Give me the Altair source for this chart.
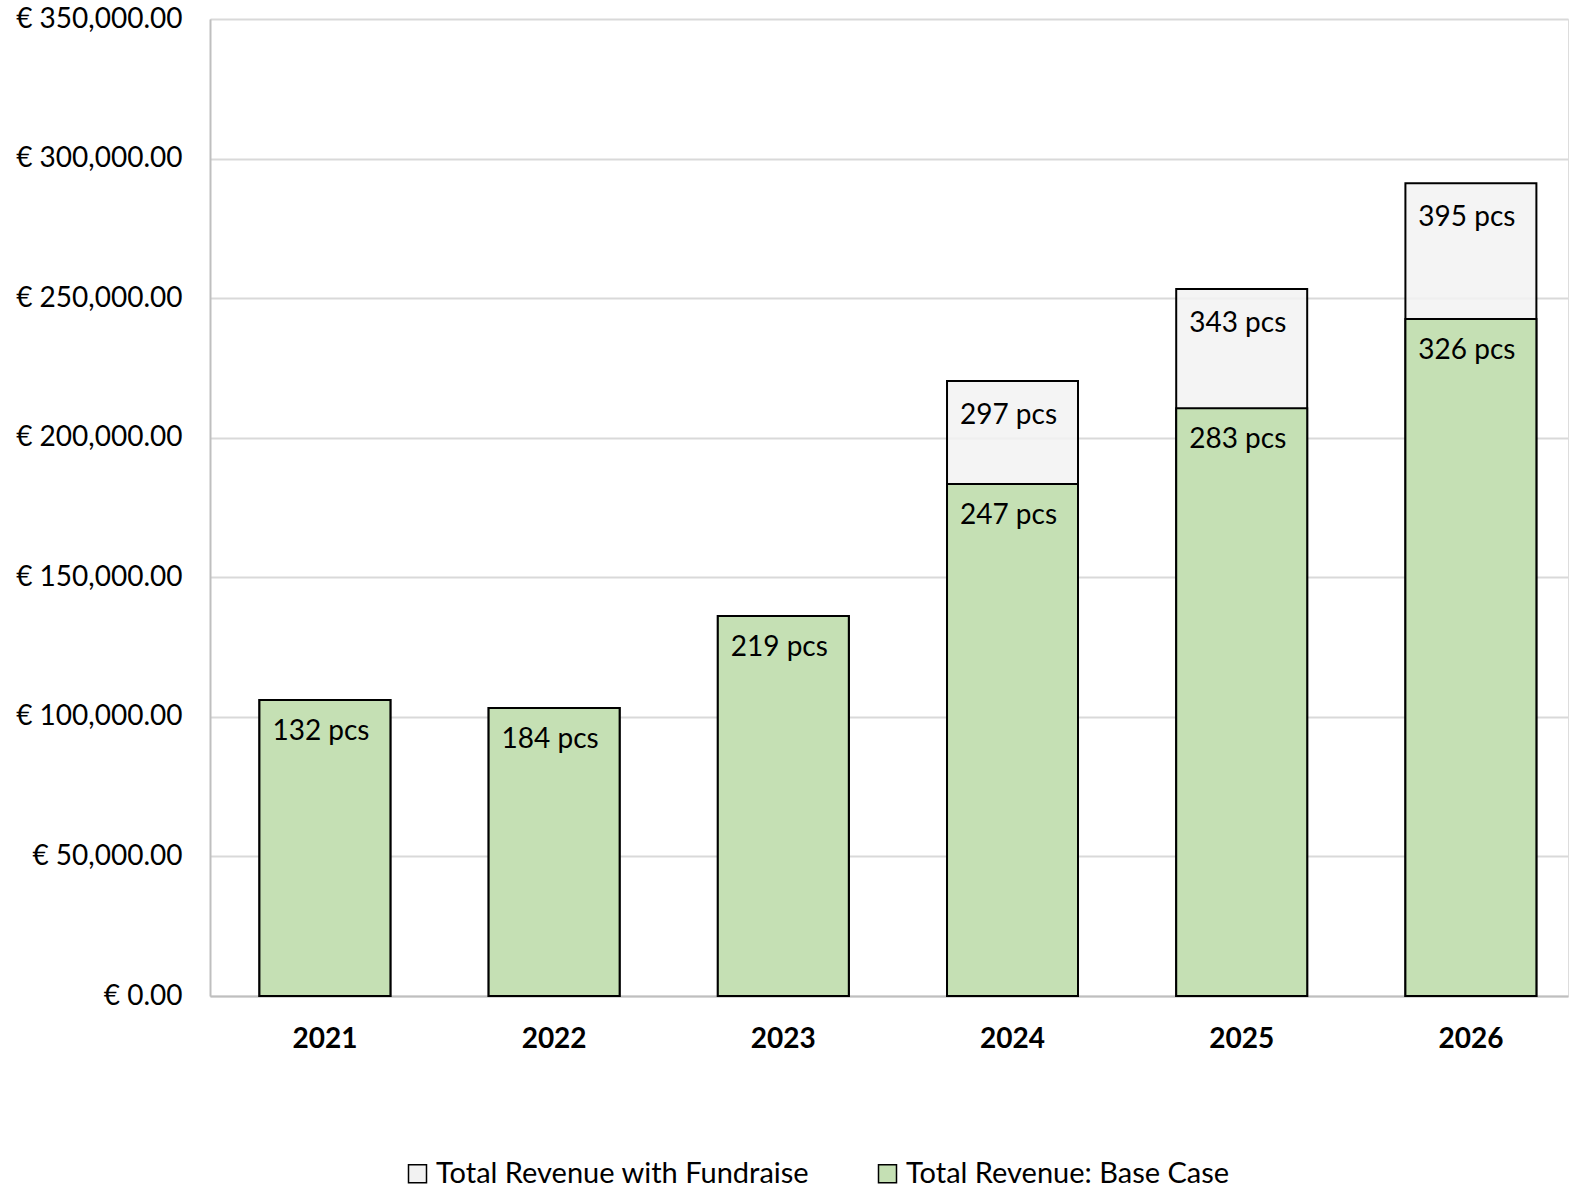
import altair as alt
import pandas as pd

years = ["2021", "2022", "2023", "2024", "2025", "2026"]
base_values = [106000, 103200, 136100, 183400, 210600, 242500]
fund_values = [106000, 103200, 136100, 220300, 253300, 291200]
base_labels = ["132 pcs", "184 pcs", "219 pcs", "247 pcs", "283 pcs", "326 pcs"]
fund_labels = ["", "", "", "297 pcs", "343 pcs", "395 pcs"]
series_names = ["Total Revenue with Fundraise", "Total Revenue: Base Case"]
series_colors = ["#f2f2f2", "#c5e0b4"]
y_ticks = [0, 50000, 100000, 150000, 200000, 250000, 300000, 350000]

FONT = "Lato"

fund_df = pd.DataFrame({"year": years, "value": fund_values, "label": fund_labels,
                        "series": series_names[0]})
base_df = pd.DataFrame({"year": years, "value": base_values, "label": base_labels,
                        "series": series_names[1]})

x_enc = alt.X("year:N", sort=years, title=None,
              scale=alt.Scale(type="band", paddingInner=0.4285, paddingOuter=0.1768, align=0.61),
              axis=alt.Axis(labelAngle=0, labelFont=FONT, labelFontSize=28, labelFontWeight="bold",
                            labelColor="black", labelPadding=29, ticks=False,
                            domainColor="#bfbfbf", domainWidth=2, grid=False))
y_enc = alt.Y("value:Q", title=None,
              scale=alt.Scale(domain=[0, 350000], nice=False),
              axis=alt.Axis(values=y_ticks, labelExpr="'€ ' + format(datum.value, ',.2f')",
                            labelFont=FONT, labelFontSize=28, labelColor="black",
                            labelPadding=28, ticks=False, domainColor="#bfbfbf", domainWidth=2,
                            gridColor="#d9d9d9", gridWidth=2, labelLimit=400))
color_enc = alt.Color("series:N", title=None,
                      scale=alt.Scale(domain=series_names, range=series_colors),
                      legend=alt.Legend(orient="none", legendX=193, legendY=1140,
                                        direction="horizontal", labelFont=FONT,
                                        labelFontSize=29, labelColor="black", labelLimit=1000,
                                        symbolType="square", symbolSize=324,
                                        symbolStrokeColor="black", symbolStrokeWidth=1.5,
                                        labelOffset=4, columnPadding=63))

fund_bars = alt.Chart(fund_df).mark_bar(stroke="black", strokeWidth=2, fillOpacity=0.85).encode(
    x=x_enc, y=y_enc, color=color_enc)
base_bars = alt.Chart(base_df).mark_bar(stroke="black", strokeWidth=2).encode(
    x=x_enc, y=y_enc, color=color_enc)
fund_text = alt.Chart(fund_df).mark_text(font=FONT, fontSize=28, color="black",
                                         baseline="middle", dy=35, dx=-4).encode(
    x=alt.X("year:N", sort=years), y="value:Q", text="label:N")
base_text = alt.Chart(base_df).mark_text(font=FONT, fontSize=28, color="black",
                                         baseline="middle", dy=32, dx=-4).encode(
    x=alt.X("year:N", sort=years), y="value:Q", text="label:N")

chart = alt.layer(fund_bars, base_bars, fund_text, base_text).properties(
    width=1358, height=977,
    autosize=alt.AutoSizeParams(type="none"),
    padding={"left": 210, "top": 19, "right": 2, "bottom": 193},
).configure_view(stroke=None).configure(background="white")

chart.save("out.html", embed_options={"renderer": "svg", "actions": False})
